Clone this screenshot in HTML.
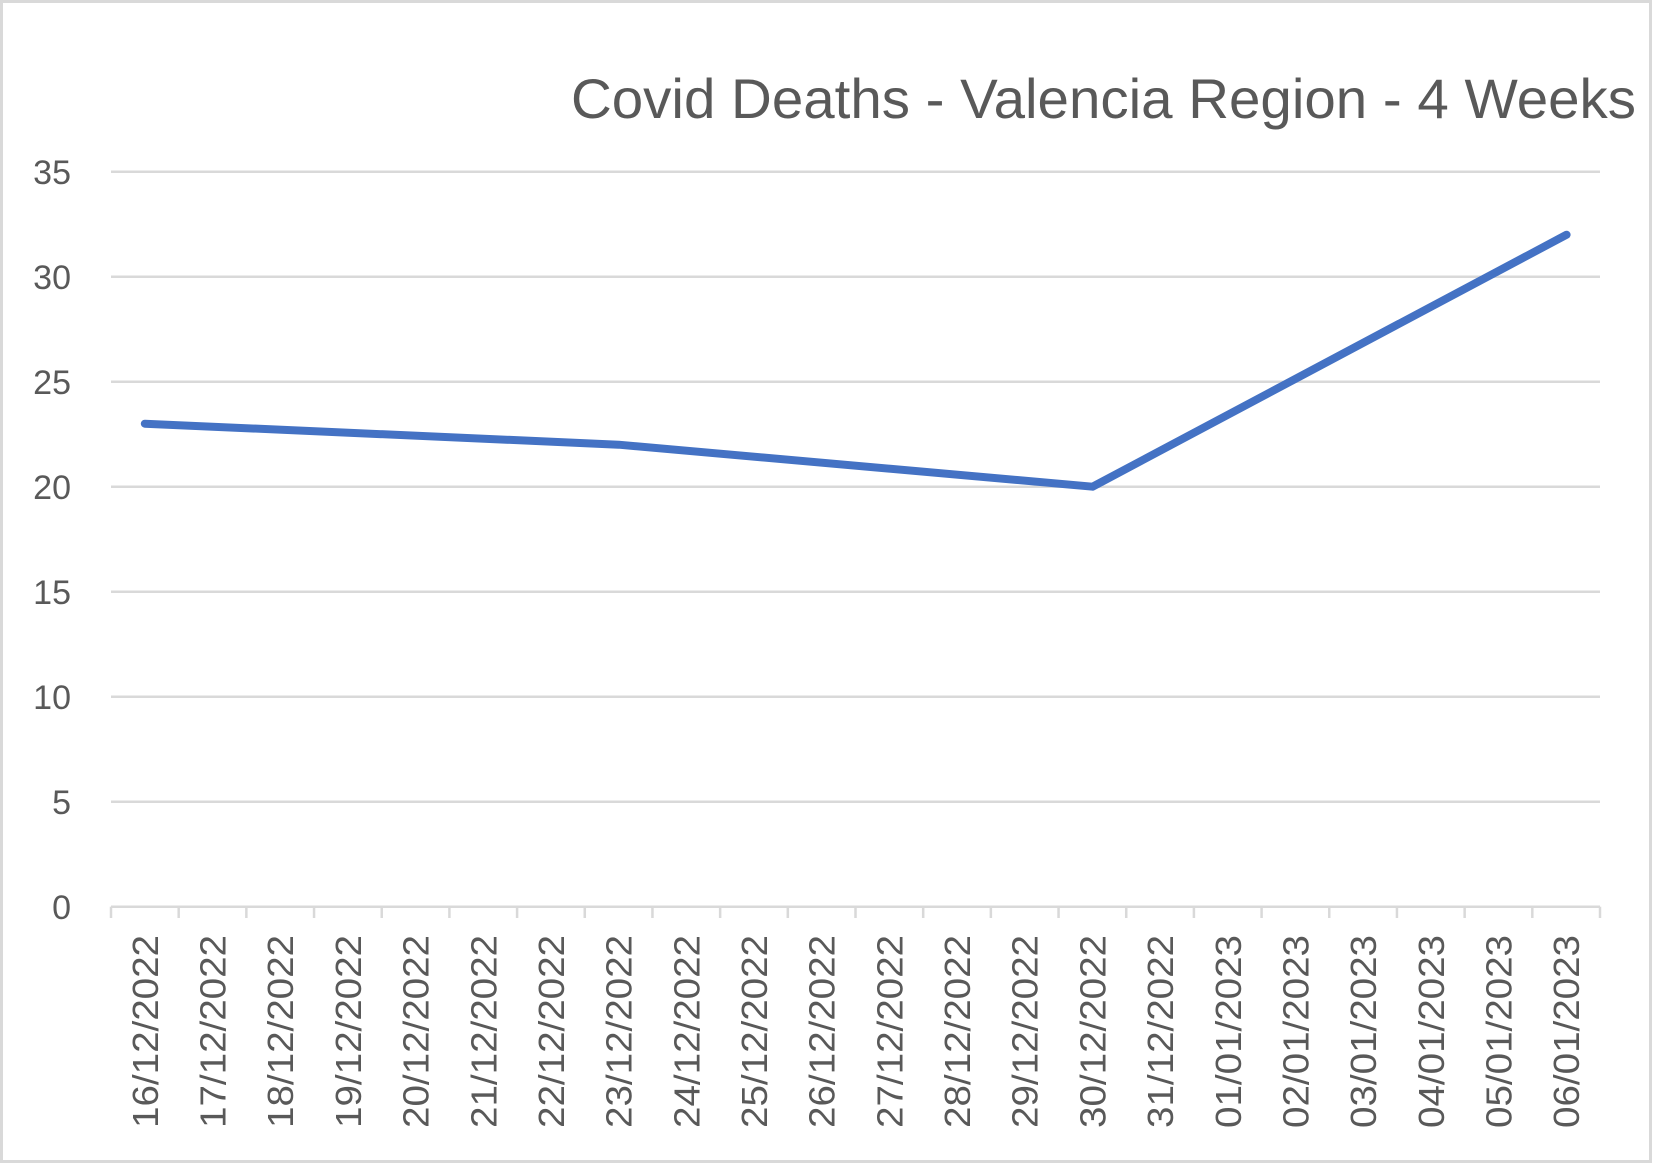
<!DOCTYPE html>
<html><head><meta charset="utf-8"><style>html,body{margin:0;padding:0;background:#fff}svg{display:block}</style></head>
<body>
<svg width="1653" height="1163" viewBox="0 0 1653 1163" xmlns="http://www.w3.org/2000/svg">
<rect x="1.5" y="1.5" width="1649" height="1160" fill="#fff" stroke="#d9d9d9" stroke-width="3"/>
<text x="1636" y="118" text-anchor="end" font-family="Liberation Sans, sans-serif" font-size="56" fill="#595959" textLength="1065" lengthAdjust="spacingAndGlyphs">Covid Deaths - Valencia Region - 4 Weeks</text>
<g stroke="#d9d9d9" stroke-width="2.5">
<line x1="111" y1="171.7" x2="1600" y2="171.7"/>
<line x1="111" y1="276.7" x2="1600" y2="276.7"/>
<line x1="111" y1="381.7" x2="1600" y2="381.7"/>
<line x1="111" y1="486.7" x2="1600" y2="486.7"/>
<line x1="111" y1="591.7" x2="1600" y2="591.7"/>
<line x1="111" y1="696.7" x2="1600" y2="696.7"/>
<line x1="111" y1="801.7" x2="1600" y2="801.7"/>
<line x1="111" y1="906.7" x2="1600" y2="906.7"/>
</g>
<g id="ticks" stroke="#d9d9d9" stroke-width="2.5"></g>
<g font-family="Liberation Sans, sans-serif" font-size="34" fill="#595959" text-anchor="end">
<text x="71" y="184">35</text>
<text x="71" y="289">30</text>
<text x="71" y="394">25</text>
<text x="71" y="499">20</text>
<text x="71" y="604">15</text>
<text x="71" y="709">10</text>
<text x="71" y="814">5</text>
<text x="71" y="919">0</text>
</g>
<g id="xl" font-family="Liberation Sans, sans-serif" font-size="36" fill="#595959" text-anchor="end"></g>
<polyline points="144.8,423.7 618.7,444.7 1092.6,486.7 1566.6,234.7" fill="none" stroke="#4472c4" stroke-width="8" stroke-linecap="round" stroke-linejoin="round"/>
<script>
var t=document.getElementById('ticks'),xl=document.getElementById('xl'),ns='http://www.w3.org/2000/svg';
var labels=["16/12/2022","17/12/2022","18/12/2022","19/12/2022","20/12/2022","21/12/2022","22/12/2022","23/12/2022","24/12/2022","25/12/2022","26/12/2022","27/12/2022","28/12/2022","29/12/2022","30/12/2022","31/12/2022","01/01/2023","02/01/2023","03/01/2023","04/01/2023","05/01/2023","06/01/2023"];
var w=(1600-111)/22;
for(var i=0;i<=22;i++){var l=document.createElementNS(ns,'line');var x=111+w*i;l.setAttribute('x1',x);l.setAttribute('x2',x);l.setAttribute('y1',906.7);l.setAttribute('y2',918);t.appendChild(l);}
for(var i=0;i<22;i++){var cx=111+w*(i+0.5)+13;var e=document.createElementNS(ns,'text');e.setAttribute('transform','translate('+cx+',935) rotate(-90)');e.setAttribute('x',0);e.setAttribute('y',0);e.setAttribute('textLength',193);e.setAttribute('lengthAdjust','spacingAndGlyphs');e.textContent=labels[i];xl.appendChild(e);}
</script>
</svg>
</body></html>
